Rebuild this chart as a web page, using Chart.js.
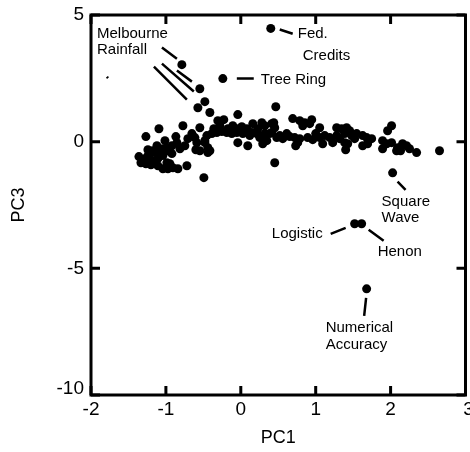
<!DOCTYPE html>
<html><head><meta charset="utf-8">
<script src="https://cdn.jsdelivr.net/npm/chart.js@4/dist/chart.umd.min.js"></script>
<style>html,body{margin:0;padding:0;background:#fff;overflow:hidden;}</style>
</head><body>
<canvas id="c" width="470" height="452"></canvas>
<script>
// ---- data (PC1, PC3) ----
const pc1 = [
 -0.787,-0.547,-0.48,-0.573,-0.413,-0.24,0.40,0.467,-0.04,
 -1.093,-1.267,-0.773,-0.547,-0.653,-0.613,-0.707,-0.587,-0.48,-0.44,-0.60,-0.413,-0.853,-0.92,-0.987,
 -1.307,-1.24,-1.173,-1.12,-1.28,-1.213,-1.147,-1.08,-1.04,-0.973,-0.92,-1.04,-1.107,-1.173,
 -1.333,-1.267,-1.20,-1.107,-1.04,-0.973,-0.907,-0.84,-0.72,-0.987,-0.947,-0.493,-0.44,-0.813,-0.747,-0.867,-1.013,-1.24,-1.36,
 -0.307,-0.227,-0.28,-0.107,-0.053,0.013,0.08,0.16,0.147,0.227,0.32,0.413,0.453,0.28,
 -0.453,-0.387,-0.32,-0.253,-0.187,-0.12,-0.053,0.027,0.12,0.213,0.32,0.413,0.48,
 -0.48,-0.04,0.093,0.293,0.347,0.453,-0.547,-0.36,-0.173,0.053,0.253,
 0.44,0.693,0.787,0.853,0.947,0.827,0.92,1.053,1.28,1.347,
 0.387,0.56,0.653,0.72,0.787,0.893,0.96,1.053,1.12,1.28,1.32,1.387,
 0.733,0.76,1.093,1.40,0.52,0.613,1.0,1.187,1.227,
 1.413,1.453,1.387,1.48,1.547,1.52,1.627,1.68,1.747,1.693,1.627,1.427,
 2.013,1.96,1.893,1.947,2.013,1.893,2.093,2.16,2.213,2.253,2.347,2.133,2.08,2.653,
 2.027,1.52,1.613,1.68
];
const pc3 = [
 3.04,2.09,1.58,1.34,1.15,2.49,4.47,1.38,1.07,
 0.51,0.20,0.63,0.55,0.32,0.16,0.12,-0.04,0.04,-0.24,-0.32,-0.36,-0.04,-0.16,-0.24,
 -0.75,-0.55,-0.36,-0.16,-0.67,-0.47,-0.43,-0.36,-0.28,-0.36,-0.47,-0.55,-0.67,-0.75,
 -0.83,-0.87,-0.91,-0.95,-1.07,-1.07,-1.03,-1.07,-0.95,-0.83,-0.87,-1.42,-0.43,-0.28,-0.16,0.20,0.04,-0.32,-0.59,
 0.83,0.87,0.63,0.63,0.51,0.59,0.51,0.71,0.36,0.51,0.63,0.71,0.55,0.75,
 0.24,0.32,0.36,0.40,0.36,0.32,0.36,0.32,0.24,0.32,0.32,0.36,0.16,
 -0.04,-0.04,-0.16,-0.08,0.04,-0.83,-0.36,0.51,0.51,0.43,0.16,
 0.75,0.91,0.83,0.75,0.87,0.63,0.71,0.55,0.55,0.51,
 0.32,0.12,0.20,0.16,0.12,0.16,0.08,0.16,0.24,0.24,0.12,-0.04,
 -0.16,-0.04,-0.08,-0.32,0.24,0.32,0.32,0.16,-0.04,
 0.55,0.43,0.32,0.24,0.32,0.12,0.24,0.16,0.12,-0.08,-0.16,-0.08,
 0.63,0.43,0.04,-0.08,-0.04,-0.28,-0.24,-0.08,-0.16,-0.28,-0.43,-0.36,-0.36,-0.36,
 -1.23,-3.24,-3.24,-5.81
];
const xTicks = [-2, -1, 0, 1, 2, 3];
const yTicks = [5, 0, -5, -10];
const xTitle = "PC1";
const yTitle = "PC3";

// annotation texts and their anchor values (data units)
const noteText  = ["Melbourne", "Rainfall", "Fed.", "Credits", "Tree Ring", "Square", "Wave", "Logistic", "Henon", "Numerical", "Accuracy"];
const noteX     = [-1.92, -1.92, 0.76, 0.827, 0.267, 1.88, 1.88, 1.093, 1.827, 1.133, 1.133];
const noteY     = [4.27, 3.64, 4.24, 3.37, 2.45, -2.37, -3.0, -3.62, -4.35, -7.35, -8.02];
const noteAlign = ["left","left","left","left","left","left","left","right","left","left","left"];

// leader lines (data units)
const lineX1 = [-1.053, -1.053, -0.853, -1.16, 0.52, -0.053, 2.093, 1.20, 1.707, 1.673, -1.787];
const lineY1 = [3.72, 3.08, 2.81, 2.96, 4.43, 2.49, -1.58, -3.64, -3.48, -6.17, 2.56];
const lineX2 = [-0.853, -0.627, -0.653, -0.72, 0.693, 0.173, 2.20, 1.40, 1.907, 1.647, -1.773];
const lineY2 = [3.27, 1.98, 2.37, 1.66, 4.26, 2.49, -1.90, -3.40, -3.91, -6.88, 2.51];

const FONT = '"Liberation Sans", Arial, Helvetica, sans-serif';

const decor = {
  id: 'decor',
  afterDatasetsDraw(chart) {
    const {ctx, chartArea: a, scales: {x, y}} = chart;
    ctx.save();
    ctx.strokeStyle = '#000';
    ctx.fillStyle = '#000';
    ctx.lineCap = 'butt';
    // frame
    ctx.lineWidth = 3;
    ctx.strokeRect(a.left, a.top, a.right - a.left, a.bottom - a.top);
    // inward ticks
    const tl = 9;
    ctx.beginPath();
    xTicks.forEach(v => {
      const px = x.getPixelForValue(v);
      ctx.moveTo(px, a.bottom); ctx.lineTo(px, a.bottom - tl);
      ctx.moveTo(px, a.top); ctx.lineTo(px, a.top + tl);
    });
    yTicks.forEach(v => {
      const py = y.getPixelForValue(v);
      ctx.moveTo(a.left, py); ctx.lineTo(a.left + tl, py);
      ctx.moveTo(a.right, py); ctx.lineTo(a.right - tl, py);
    });
    ctx.stroke();
    // tick labels
    ctx.font = '19px ' + FONT;
    ctx.textAlign = 'center';
    ctx.textBaseline = 'middle';
    xTicks.forEach(v => {
      ctx.fillText(String(v), x.getPixelForValue(v) + (v === 3 ? 3 : 0), a.bottom + 15);
    });
    ctx.textAlign = 'right';
    yTicks.forEach(v => {
      let py = y.getPixelForValue(v);
      if (v === -10) py -= 6;
      ctx.fillText(String(v), a.left - 7, py);
    });
    // axis titles
    ctx.font = '18px ' + FONT;
    ctx.textAlign = 'center';
    ctx.fillText(xTitle, (a.left + a.right) / 2, a.bottom + 43);
    ctx.save();
    ctx.translate(19, (a.top + a.bottom) / 2);
    ctx.rotate(-Math.PI / 2);
    ctx.fillText(yTitle, 0, 0);
    ctx.restore();
    // leader lines
    ctx.lineWidth = 2.5;
    ctx.beginPath();
    for (let i = 0; i < lineX1.length; i++) {
      ctx.moveTo(x.getPixelForValue(lineX1[i]), y.getPixelForValue(lineY1[i]));
      ctx.lineTo(x.getPixelForValue(lineX2[i]), y.getPixelForValue(lineY2[i]));
    }
    ctx.stroke();
    // notes
    ctx.font = '15px ' + FONT;
    ctx.textBaseline = 'middle';
    for (let i = 0; i < noteText.length; i++) {
      ctx.textAlign = noteAlign[i];
      ctx.fillText(noteText[i], x.getPixelForValue(noteX[i]), y.getPixelForValue(noteY[i]));
    }
    ctx.restore();
  }
};

new Chart(document.getElementById('c'), {
  type: 'scatter',
  data: {
    datasets: [{
      data: pc1.map((v, i) => ({x: v, y: pc3[i]})),
      backgroundColor: '#000',
      borderColor: '#000',
      borderWidth: 0,
      pointRadius: 4.5,
      pointHoverRadius: 4.5,
      clip: false
    }]
  },
  options: {
    responsive: false,
    animation: false,
    devicePixelRatio: 1,
    layout: { padding: { left: 91, top: 15, right: 3, bottom: 57 } },
    plugins: { legend: { display: false }, tooltip: { enabled: false } },
    scales: {
      x: { type: 'linear', min: -2, max: 3, display: false },
      y: { type: 'linear', min: -10, max: 5, display: false }
    }
  },
  plugins: [decor]
});
</script>
</body></html>
